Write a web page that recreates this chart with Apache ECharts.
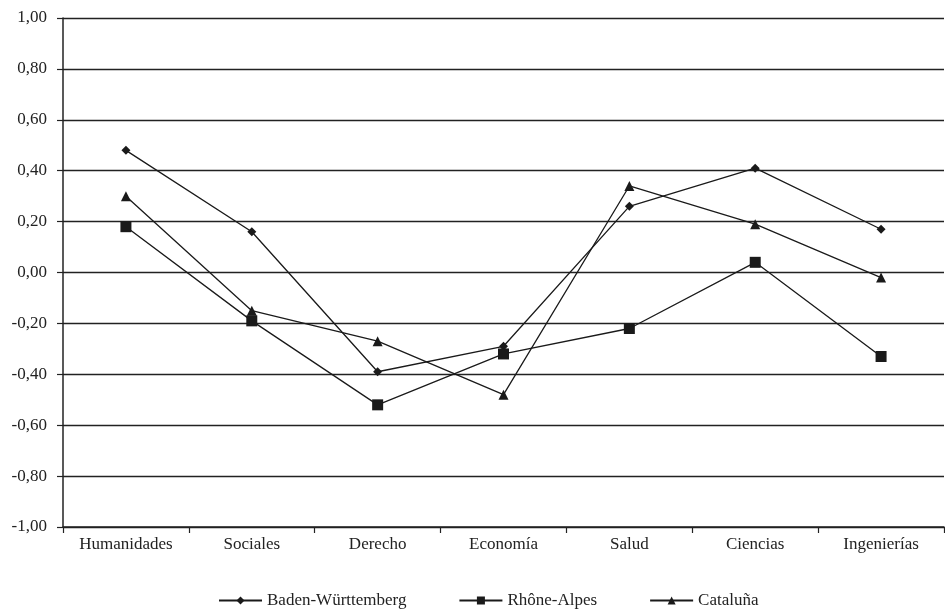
<!DOCTYPE html>
<html>
<head>
<meta charset="utf-8">
<script src="https://cdn.jsdelivr.net/npm/echarts@6/dist/echarts.min.js"></script>
<style>html,body{margin:0;padding:0;background:#fff;}#c{width:945px;height:609px;}</style>
</head>
<body>
<div id="c"></div>
<script>
const categories = ['Humanidades','Sociales','Derecho','Economía','Salud','Ciencias','Ingenierías'];
const baden = [0.48, 0.16, -0.39, -0.29, 0.26, 0.41, 0.17];
const rhone = [0.18, -0.19, -0.52, -0.32, -0.22, 0.04, -0.33];
const cataluna = [0.30, -0.15, -0.27, -0.48, 0.34, 0.19, -0.02];
const seriesNames = ['Baden-Württemberg','Rhône-Alpes','Cataluña'];

const font = '"Liberation Serif", "DejaVu Serif", serif';
const chart = echarts.init(document.getElementById('c'));
function mk(name, data, symbol, size) {
  return {
    name, type: 'line', data, symbol, symbolSize: size,
    lineStyle: {color: '#1a1a1a', width: 1.3},
    itemStyle: {color: '#1a1a1a'},
    emphasis: {disabled: true},
    animation: false
  };
}
chart.setOption({
  backgroundColor: '#fff',
  animation: false,
  grid: {left: 63, right: 1, top: 18, bottom: 82},
  legend: {
    bottom: -5, left: 213,
    itemWidth: 43, itemHeight: 10, itemGap: 52,
    textStyle: {fontFamily: font, fontSize: 17, color: '#222', padding: [0,0,0,0]},
    data: seriesNames
  },
  xAxis: {
    type: 'category', data: categories, boundaryGap: true,
    axisLine: {show: true, onZero: false, lineStyle: {color: '#222', width: 1.5}},
    axisTick: {show: true, length: 6, lineStyle: {color: '#222', width: 1.2}},
    axisLabel: {fontFamily: font, fontSize: 17, color: '#222', margin: 9},
    splitLine: {show: false}
  },
  yAxis: {
    type: 'value', min: -1, max: 1, interval: 0.2,
    axisLine: {show: true, lineStyle: {color: '#222', width: 1.5}},
    axisTick: {show: true, length: 6, lineStyle: {color: '#222', width: 1.2}},
    axisLabel: {fontFamily: font, fontSize: 17, color: '#222', margin: 16,
      formatter: v => v.toFixed(2).replace('.', ',')},
    splitLine: {show: true, lineStyle: {color: '#222', width: 1.3}}
  },
  series: [
    mk(seriesNames[0], baden, 'diamond', 9),
    mk(seriesNames[1], rhone, 'rect', 11),
    mk(seriesNames[2], cataluna, 'triangle', 10)
  ]
});
</script>
</body>
</html>
